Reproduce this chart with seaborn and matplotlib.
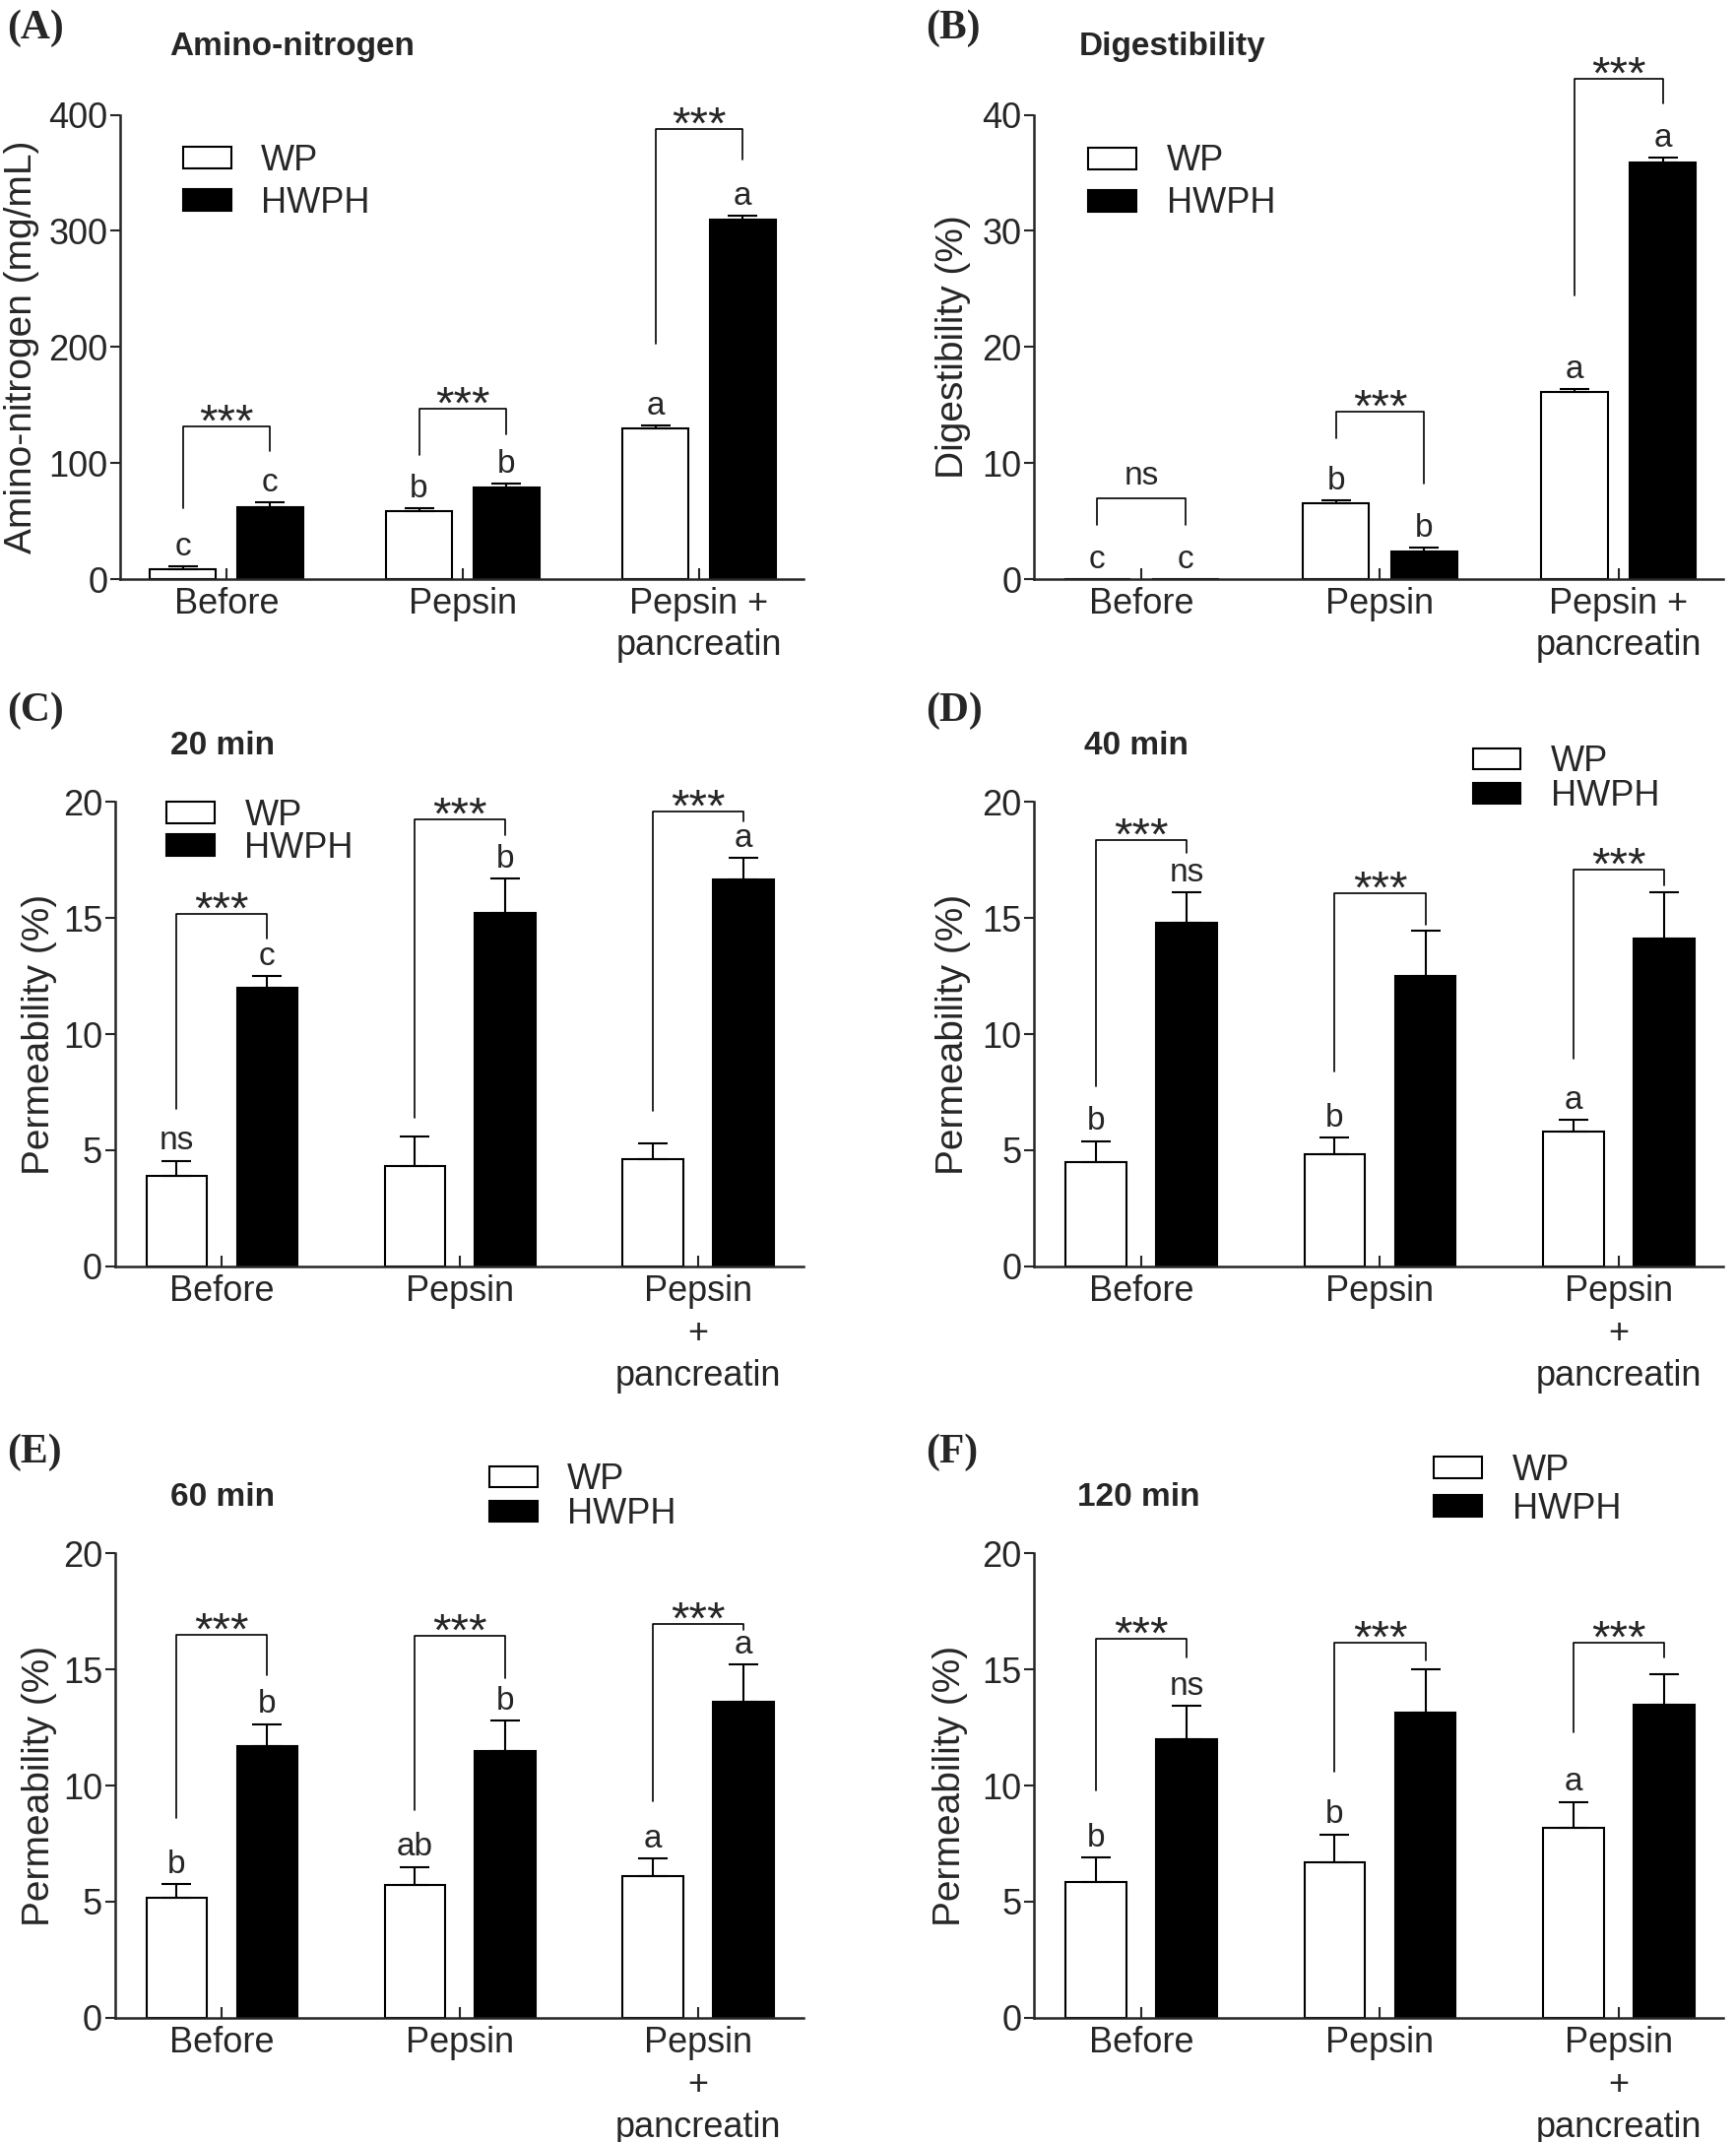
import numpy as np
import pandas as pd
import seaborn as sns
from matplotlib import pyplot as plt
from matplotlib.patches import Patch

groups = ["WP", "HWPH"]
stages_wide = ["Before", "Pepsin", "Pepsin +\npancreatin"]
stages_tall = ["Before", "Pepsin", "Pepsin\n+\npancreatin"]

# (A) amino-nitrogen (mg/mL)
amino_wp = [9, 59, 130]
amino_wp_err = [2, 2, 2.5]
amino_hwph = [62, 79, 310]
amino_hwph_err = [4, 3, 3]
amino_wp_letters = ["c", "b", "a"]
amino_hwph_letters = ["c", "b", "a"]
amino_sig = ["***", "***", "***"]
amino_brackets = [(61.5, 131.6, 110), (107, 146.5, 125), (203, 387.7, 361.6)]

# (B) digestibility (%)
dig_wp = [0, 6.5, 16.1]
dig_wp_err = [0, 0.3, 0.3]
dig_hwph = [0, 2.4, 35.9]
dig_hwph_err = [0, 0.35, 0.4]
dig_wp_letters = ["c", "b", "a"]
dig_hwph_letters = ["c", "b", "a"]
dig_sig = ["ns", "***", "***"]
dig_brackets = [(4.66, 7.0, 4.66), (12.1, 14.4, 8.2), (24.4, 43.1, 41.0)]

# (C) permeability 20 min (%)
p20_wp = [3.9, 4.3, 4.6]
p20_wp_err = [0.65, 1.3, 0.7]
p20_hwph = [12.0, 15.2, 16.65]
p20_hwph_err = [0.5, 1.5, 0.95]
p20_wp_letters = ["ns", "", ""]
p20_hwph_letters = ["c", "b", "a"]
p20_sig = ["***", "***", "***"]
p20_brackets = [(6.8, 15.18, 14.13), (6.4, 19.23, 18.58), (6.7, 19.6, 19.17)]

# (D) permeability 40 min (%)
p40_wp = [4.5, 4.85, 5.8]
p40_wp_err = [0.9, 0.7, 0.5]
p40_hwph = [14.8, 12.5, 14.1]
p40_hwph_err = [1.3, 1.95, 2.0]
p40_wp_letters = ["b", "b", "a"]
p40_hwph_letters = ["ns", "", ""]
p40_sig = ["***", "***", "***"]
p40_brackets = [(7.75, 18.38, 17.8), (8.4, 16.07, 14.7), (8.93, 17.1, 16.4)]

# (E) permeability 60 min (%)
p60_wp = [5.15, 5.7, 6.1]
p60_wp_err = [0.6, 0.8, 0.75]
p60_hwph = [11.7, 11.5, 13.6]
p60_hwph_err = [0.95, 1.3, 1.6]
p60_wp_letters = ["b", "ab", "a"]
p60_hwph_letters = ["b", "b", "a"]
p60_sig = ["***", "***", "***"]
p60_brackets = [(8.62, 16.5, 14.74), (8.93, 16.47, 14.64), (9.34, 16.98, 16.7)]

# (F) permeability 120 min (%)
p120_wp = [5.85, 6.7, 8.2]
p120_wp_err = [1.05, 1.2, 1.1]
p120_hwph = [12.0, 13.15, 13.5]
p120_hwph_err = [1.45, 1.85, 1.3]
p120_wp_letters = ["b", "b", "a"]
p120_hwph_letters = ["ns", "", ""]
p120_sig = ["***", "***", "***"]
p120_brackets = [(9.79, 16.31, 15.5), (10.6, 16.17, 15.41), (12.29, 16.17, 15.5)]


def draw_panel(ax, stages, wp, wp_err, hwph, hwph_err, wp_letters, hwph_letters,
               sig, brackets, ymax, ystep, ylabel, width, gap, linesp):
    df = pd.DataFrame({
        "stage": stages * 2,
        "group": ["WP"] * 3 + ["HWPH"] * 3,
        "value": wp + hwph,
    })
    sns.barplot(data=df, x="stage", y="value", hue="group", order=stages,
                hue_order=groups, palette={"WP": "white", "HWPH": "black"},
                edgecolor="black", linewidth=1.5, width=width, gap=gap,
                errorbar=None, legend=False, ax=ax)

    centers = []
    for cont, vals, errs, letters in zip(ax.containers, [wp, hwph],
                                         [wp_err, hwph_err],
                                         [wp_letters, hwph_letters]):
        bars = sorted(cont.patches, key=lambda p: p.get_x())
        xs = [p.get_x() + p.get_width() / 2 for p in bars]
        centers.append(xs)
        vals = np.array(vals, dtype=float)
        errs = np.array(errs, dtype=float)
        m = errs > 0
        ax.errorbar(np.array(xs)[m], vals[m], yerr=[np.zeros(m.sum()), errs[m]],
                    fmt="none", ecolor="black", elinewidth=1.5, capsize=11,
                    capthick=1.5, zorder=3)
        for x, v, e, t in zip(xs, vals, errs, letters):
            if t:
                ax.annotate(t, (x, v + e), xytext=(0, 3), textcoords="offset points",
                            ha="center", va="bottom", fontsize=24,
                            annotation_clip=False)

    for i, (ls, top, rs) in enumerate(brackets):
        x0, x1 = centers[0][i], centers[1][i]
        ax.plot([x0, x0, x1, x1], [ls, top, top, rs], color="black", lw=1.2,
                clip_on=False)
        if sig[i] == "***":
            ax.annotate(sig[i], ((x0 + x1) / 2, top), xytext=(0, -7),
                        textcoords="offset points", ha="center", va="baseline",
                        fontsize=34, annotation_clip=False)
        else:
            ax.annotate(sig[i], ((x0 + x1) / 2, top), xytext=(0, 10),
                        textcoords="offset points", ha="center", va="baseline",
                        fontsize=24, annotation_clip=False)

    ax.set_ylim(0, ymax)
    ax.set_yticks(np.arange(0, ymax + 1e-9, ystep))
    ax.set_xlim(-0.45, 2.44)
    ax.set_xlabel("")
    ax.set_ylabel(ylabel, fontsize=28)
    ax.tick_params(axis="y", direction="out", length=7, width=1.5, pad=2,
                   labelsize=26)
    ax.tick_params(axis="x", direction="in", length=8, width=1.5, pad=6,
                   labelsize=26)
    for lab in ax.get_xticklabels():
        lab.set_linespacing(linesp)
    sns.despine(ax=ax)
    for s in ["left", "bottom"]:
        ax.spines[s].set_linewidth(1.8)


def add_legend(ax, x, y, spacing):
    handles = [Patch(facecolor="white", edgecolor="black", linewidth=1.5),
               Patch(facecolor="black", edgecolor="black", linewidth=1.5)]
    ax.legend(handles, groups, loc="center left", bbox_to_anchor=(x, y),
              frameon=False, fontsize=26, handlelength=1.35, handleheight=0.55,
              handletextpad=0.85, labelspacing=spacing, borderaxespad=0,
              borderpad=0)


sns.set_style("ticks")
plt.rcParams["font.family"] = ["Liberation Sans", "DejaVu Sans"]

fig = plt.figure(figsize=(17.63, 21.75), dpi=100)

h = 0.2168
axA = fig.add_axes([0.0692, 0.7296, 0.3934, h])
axB = fig.add_axes([0.5956, 0.7296, 0.3973, h])
axC = fig.add_axes([0.0661, 0.4088, 0.3965, h])
axD = fig.add_axes([0.5956, 0.4088, 0.3973, h])
axE = fig.add_axes([0.0661, 0.0580, 0.3965, h])
axF = fig.add_axes([0.5956, 0.0580, 0.3973, h])

draw_panel(axA, stages_wide, amino_wp, amino_wp_err, amino_hwph, amino_hwph_err,
           amino_wp_letters, amino_hwph_letters, amino_sig, amino_brackets,
           400, 100, "Amino-nitrogen (mg/mL)", 0.74, 0.25, 1.25)
draw_panel(axB, stages_wide, dig_wp, dig_wp_err, dig_hwph, dig_hwph_err,
           dig_wp_letters, dig_hwph_letters, dig_sig, dig_brackets,
           40, 10, "Digestibility (%)", 0.74, 0.25, 1.25)
draw_panel(axC, stages_tall, p20_wp, p20_wp_err, p20_hwph, p20_hwph_err,
           p20_wp_letters, p20_hwph_letters, p20_sig, p20_brackets,
           20, 5, "Permeability (%)", 0.76, 0.33, 1.3)
draw_panel(axD, stages_tall, p40_wp, p40_wp_err, p40_hwph, p40_hwph_err,
           p40_wp_letters, p40_hwph_letters, p40_sig, p40_brackets,
           20, 5, "Permeability (%)", 0.76, 0.33, 1.3)
draw_panel(axE, stages_tall, p60_wp, p60_wp_err, p60_hwph, p60_hwph_err,
           p60_wp_letters, p60_hwph_letters, p60_sig, p60_brackets,
           20, 5, "Permeability (%)", 0.76, 0.33, 1.3)
draw_panel(axF, stages_tall, p120_wp, p120_wp_err, p120_hwph, p120_hwph_err,
           p120_wp_letters, p120_hwph_letters, p120_sig, p120_brackets,
           20, 5, "Permeability (%)", 0.76, 0.33, 1.3)

add_legend(axA, 0.092, 0.855, 0.22)
add_legend(axB, 0.079, 0.854, 0.22)
add_legend(axC, 0.075, 0.935, -0.05)
add_legend(axD, 0.636, 1.049, 0.0)
add_legend(axE, 0.544, 1.121, 0.0)
add_legend(axF, 0.580, 1.137, 0.1)

axA.yaxis.set_label_coords(-0.118, 0.5)
axB.yaxis.set_label_coords(-0.091, 0.5)
axC.yaxis.set_label_coords(-0.084, 0.5)
axD.yaxis.set_label_coords(-0.091, 0.5)
axE.yaxis.set_label_coords(-0.084, 0.5)
axF.yaxis.set_label_coords(-0.096, 0.5)

titles = [(axA, "Amino-nitrogen", 0.072, 1.147), (axB, "Digestibility", 0.065, 1.147),
          (axC, "20 min", 0.081, 1.121), (axD, "40 min", 0.073, 1.121),
          (axE, "60 min", 0.081, 1.121), (axF, "120 min", 0.063, 1.121)]
for ax, t, x, y in titles:
    ax.text(x, y, t, transform=ax.transAxes, ha="left", va="center",
            fontsize=24, fontweight="bold")

panel_labels = [("(A)", 0.004, 0.9866), ("(B)", 0.533, 0.9866),
                ("(C)", 0.004, 0.668), ("(D)", 0.533, 0.668),
                ("(E)", 0.004, 0.322), ("(F)", 0.533, 0.322)]
for t, x, y in panel_labels:
    fig.text(x, y, t, ha="left", va="center", fontsize=30, fontweight="bold",
             family=["Liberation Serif", "DejaVu Serif"])

fig.savefig("out.png", dpi=100)
